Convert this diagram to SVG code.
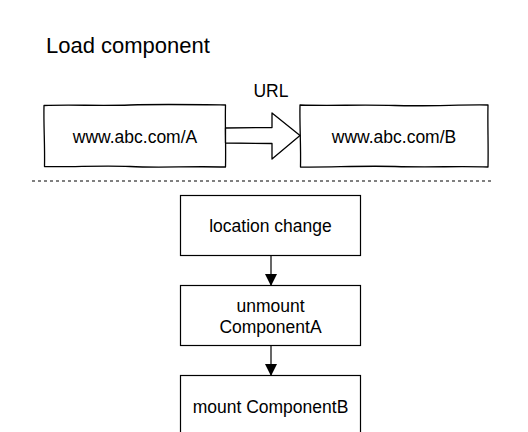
<svg xmlns="http://www.w3.org/2000/svg" width="528" height="432" viewBox="0 0 528 432">
<style>
text{font-family:"Liberation Sans",Arial,sans-serif;font-size:17.5px;fill:#000}
.c{text-anchor:middle}
.box{fill:#fff;stroke:#000;stroke-width:1.2}
.sk{fill:#fff;stroke:#000;stroke-width:1.3;stroke-linejoin:round}
.edge{stroke:#000;stroke-width:1.2;fill:none}
</style>
<defs>
<marker id="ah" viewBox="0 0 12 12" refX="11" refY="6" markerWidth="12" markerHeight="12" markerUnits="userSpaceOnUse" orient="auto">
<path d="M0,0 L12,6 L0,12 Z" fill="#000"/>
</marker>
</defs>
<rect width="528" height="432" fill="#fff"/>
<text x="46" y="53" style="font-size:22px">Load component</text>
<g id="nodeA">
<path class="sk" d="M44,105.5 C70,104.5 100,106 130,105 S190,104.5 225.5,105 C225,125 226,145 225.5,167 C190,166 160,168 130,166.5 S70,167.5 44.5,166.5 C45,145 43.5,125 44,105.5 Z"/>
<text class="c" x="135" y="143">www.abc.com/A</text>
</g>
<g id="nodeB">
<path class="sk" d="M300,105 C330,106 360,104.5 395,105.5 S460,104.5 488,105 C487.5,125 488.5,145 488,167 C460,166 430,167.5 395,166.5 S330,167.5 300.5,167 C301,145 299.5,125 300,105 Z"/>
<text class="c" x="394" y="143">www.abc.com/B</text>
</g>
<g id="urlArrow">
<path class="sk" d="M225.5,128 L272,127.5 L272,113 L300,135.5 L272,159 L272,143.5 L225.5,143 Z"/>
<text class="c" x="271" y="97">URL</text>
</g>
<line x1="32" y1="181" x2="494" y2="181" stroke="#000" stroke-width="1" stroke-dasharray="3,3"/>
<g id="n1">
<rect class="box" x="180.5" y="195.5" width="180" height="60"/>
<text class="c" x="270.5" y="232">location change</text>
</g>
<g id="n2">
<rect class="box" x="180.5" y="285.5" width="180" height="60"/>
<text class="c" x="270.5" y="312">unmount</text>
<text class="c" x="270.5" y="333">ComponentA</text>
</g>
<g id="n3">
<rect class="box" x="180.5" y="375.5" width="180" height="60"/>
<text class="c" x="270.5" y="413">mount ComponentB</text>
</g>
<g id="connectors">
<line class="edge" x1="271" y1="255.5" x2="271" y2="285" marker-end="url(#ah)"/>
<line class="edge" x1="271" y1="345.5" x2="271" y2="375" marker-end="url(#ah)"/>
</g>
</svg>
